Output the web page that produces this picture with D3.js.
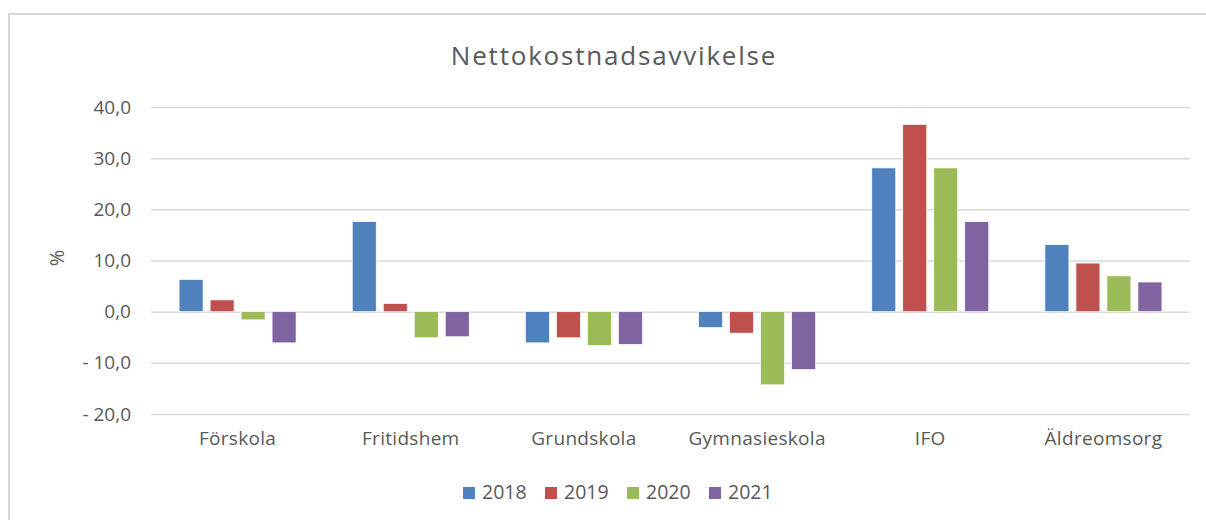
<!DOCTYPE html>
<html>
<head>
<meta charset="utf-8">
<script src="https://cdn.jsdelivr.net/npm/d3@7"></script>
<style>
  body { margin: 0; background: #fff; }
  svg text { font-family: "Open Sans", "Noto Sans", sans-serif; fill: #595959; }
</style>
</head>
<body>
<div id="chart"></div>
<script>
// chart data
const categories = ["Förskola", "Fritidshem", "Grundskola", "Gymnasieskola", "IFO", "Äldreomsorg"]
const years = ["2018", "2019", "2020", "2021"]
const values2018 = [6.3, 17.6, -6.1, -3.1, 28.1, 13.1]
const values2019 = [2.3, 1.6, -5.1, -4.2, 36.6, 9.5]
const values2020 = [-1.6, -5.1, -6.6, -14.3, 28.1, 7.0]
const values2021 = [-6.1, -4.9, -6.4, -11.3, 17.6, 5.8]
const yTicks = [-20, -10, 0, 10, 20, 30, 40]
const colors = ["#4F81BD", "#C0504D", "#9BBB59", "#8064A2"]

const series = [values2018, values2019, values2020, values2021]

const width = 1206
const height = 520
const margin = {top: 107, right: 16, bottom: 106, left: 151}

const svg = d3.select("#chart")
    .append("svg")
    .attr("width", width)
    .attr("height", height)

// outer frame (only top and left edges are visible in the picture)
svg.append("path")
    .attr("d", "M9,520 V14 H1206")
    .attr("fill", "none")
    .attr("stroke", "#d9d9d9")
    .attr("stroke-width", 2)

// title
svg.append("text")
    .attr("x", 614)
    .attr("y", 65)
    .attr("text-anchor", "middle")
    .style("font-size", "26px")
    .style("letter-spacing", "1.8px")
    .text("Nettokostnadsavvikelse")

// scales
const y = d3.scaleLinear()
    .domain([-20, 40])
    .range([height - margin.bottom, margin.top])

const x0 = d3.scaleBand()
    .domain(categories)
    .range([margin.left, width - margin.right])

const x1 = d3.scaleBand()
    .domain(years)
    .range([0, x0.bandwidth()])
    .paddingInner(0.226)
    .paddingOuter(0.906)

// swedish style numbers: "10,0" and "- 10,0"
const locale = d3.formatLocale({decimal: ",", thousands: " ", grouping: [3], currency: ["", ""]})
const fmt = locale.format(".1f")
const tickFormat = d => d < 0 ? "- " + fmt(-d) : fmt(d)

// gridlines + y labels via axis
const yAxis = svg.append("g")
    .attr("transform", `translate(${margin.left},0)`)
    .call(d3.axisLeft(y)
        .tickValues(yTicks)
        .tickSize(-(width - margin.left - margin.right))
        .tickPadding(20)
        .tickFormat(tickFormat))

yAxis.select(".domain").remove()
yAxis.selectAll(".tick line")
    .attr("stroke", "#d9d9d9")
    .attr("stroke-width", 1.5)
yAxis.selectAll(".tick text")
    .style("font-size", "19px")
    .attr("fill", "#595959")

// y axis title
svg.append("text")
    .attr("transform", "translate(64,258) rotate(-90)")
    .attr("text-anchor", "middle")
    .style("font-size", "20px")
    .text("%")

// bars
const groups = svg.append("g")
    .selectAll("g")
    .data(series)
    .join("g")
    .attr("fill", (d, i) => colors[i])

groups.selectAll("rect")
    .data((d, i) => d.map((v, j) => ({value: v, cat: categories[j], year: years[i]})))
    .join("rect")
    .attr("x", d => x0(d.cat) + x1(d.year))
    .attr("width", x1.bandwidth())
    .attr("y", d => y(Math.max(0, d.value)))
    .attr("height", d => Math.abs(y(d.value) - y(0)))
    .attr("stroke", "#fff")
    .attr("stroke-width", 0.7)

// category labels
const xAxis = svg.append("g")
    .attr("transform", `translate(0,${height - margin.bottom})`)
    .call(d3.axisBottom(x0).tickSize(0).tickPadding(18))
xAxis.select(".domain").remove()
xAxis.selectAll(".tick text")
    .style("font-size", "19px")
    .style("letter-spacing", "0.3px")
    .attr("fill", "#595959")

// legend
const legend = svg.append("g")
    .selectAll("g")
    .data(years)
    .join("g")
    .attr("transform", (d, i) => `translate(${463 + i * 82},0)`)

legend.append("rect")
    .attr("y", 487)
    .attr("width", 12)
    .attr("height", 12)
    .attr("fill", (d, i) => colors[i])

legend.append("text")
    .attr("x", 19)
    .attr("y", 499)
    .style("font-size", "19.5px")
    .text(d => d)
</script>
</body>
</html>
